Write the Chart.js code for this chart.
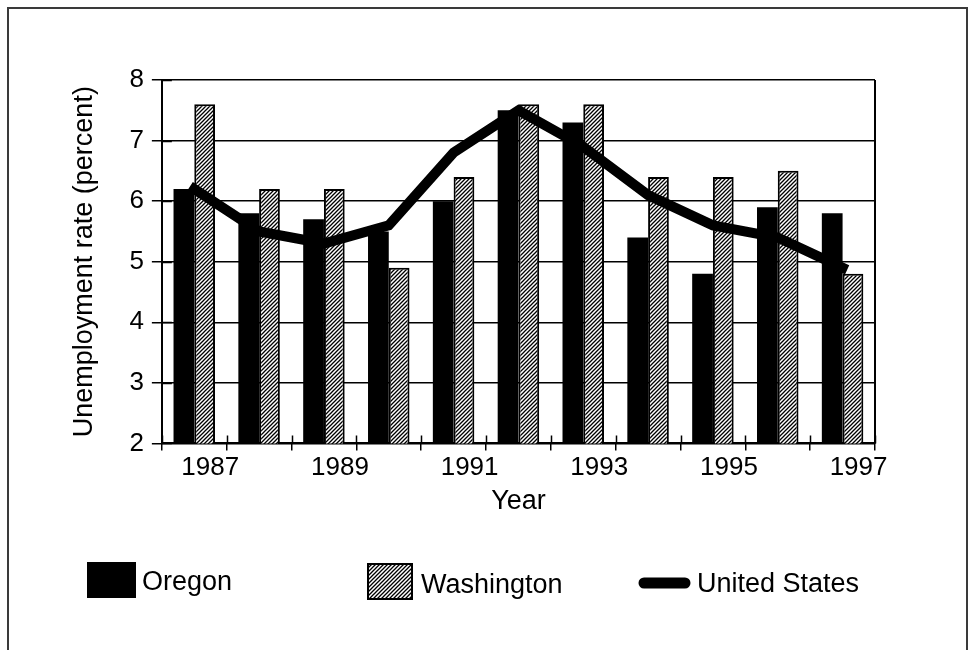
<!DOCTYPE html>
<html><head><meta charset="utf-8">
<script src="https://cdn.jsdelivr.net/npm/chart.js@4/dist/chart.umd.min.js"></script>
<style>
html,body{margin:0;padding:0;background:#fff;}
#wrap{position:relative;width:970px;height:650px;overflow:hidden;}
#frame{position:absolute;left:7px;top:7px;width:961px;height:700px;border:2px solid #3a3a3a;border-bottom:none;box-sizing:border-box;}
canvas{position:absolute;left:0;top:0;}
</style></head><body>
<div id="wrap"><div id="frame"></div><canvas id="c" width="970" height="650"></canvas></div>
<script>
// ---- data ----
const years = ['1987','1988','1989','1990','1991','1992','1993','1994','1995','1996','1997'];
const oregon = [6.2, 5.8, 5.7, 5.5, 6.0, 7.5, 7.3, 5.4, 4.8, 5.9, 5.8];
const washington = [7.6, 6.2, 6.2, 4.9, 6.4, 7.6, 7.6, 6.4, 6.4, 6.5, 4.8];
const unitedStates = [6.2, 5.5, 5.3, 5.6, 6.8, 7.5, 6.9, 6.1, 5.6, 5.4, 4.9];
const yTickLabels = [2, 3, 4, 5, 6, 7, 8];
const seriesNames = ['Oregon', 'Washington', 'United States'];
const xTitle = 'Year';
const yTitle = 'Unemployment rate (percent)';

const FONT = "'Liberation Sans', Arial, Helvetica, sans-serif";
Chart.defaults.font.family = FONT;
Chart.defaults.color = '#000';

const canvas = document.getElementById('c');
const ctx0 = canvas.getContext('2d');

function makeHatch() {
  const s = 4;
  const t = document.createElement('canvas');
  t.width = s; t.height = s;
  const c = t.getContext('2d');
  c.fillStyle = '#fff'; c.fillRect(0, 0, s, s);
  c.strokeStyle = '#000'; c.lineWidth = 1.3;
  c.beginPath();
  c.moveTo(-1, s + 1); c.lineTo(s + 1, -1);
  c.moveTo(-1, 1); c.lineTo(1, -1);
  c.moveTo(s - 1, s + 1); c.lineTo(s + 1, s - 1);
  c.stroke();
  return ctx0.createPattern(t, 'repeat');
}
const hatch = makeHatch();

// inner tick marks + right border
const innerTicks = {
  id: 'innerTicks',
  afterDraw(chart) {
    const {ctx, chartArea: a, scales: {x, y}} = chart;
    ctx.save();
    ctx.strokeStyle = '#000';
    ctx.lineWidth = 1.5;
    ctx.beginPath();
    const n = years.length;
    const w = x.getPixelForValue(1) - x.getPixelForValue(0);
    for (let i = 0; i <= n; i++) {
      const px = Math.round(x.getPixelForValue(0) - w / 2 + i * w) + 0.5;
      ctx.moveTo(px, a.bottom - 8); ctx.lineTo(px, a.bottom);
    }
    y.ticks.forEach(t => {
      const py = Math.round(y.getPixelForValue(t.value)) + 0.5;
      ctx.moveTo(a.left, py); ctx.lineTo(a.left + 10, py);
    });
    ctx.stroke();
    ctx.lineWidth = 2;
    ctx.beginPath();
    ctx.moveTo(a.right, a.top); ctx.lineTo(a.right, a.bottom);
    ctx.stroke();
    ctx.restore();
  }
};

// custom legend
const customLegend = {
  id: 'customLegend',
  afterDraw(chart) {
    const ctx = chart.ctx;
    ctx.save();
    ctx.font = "27px " + FONT;
    ctx.textBaseline = 'alphabetic';
    // Oregon
    ctx.fillStyle = '#000';
    ctx.fillRect(87, 562, 49, 36);
    ctx.fillText(seriesNames[0], 142, 590);
    // Washington
    ctx.fillStyle = hatch;
    ctx.fillRect(367, 563, 46, 37);
    ctx.strokeStyle = '#000'; ctx.lineWidth = 2;
    ctx.strokeRect(368, 564, 44, 35);
    ctx.fillStyle = '#000';
    ctx.fillText(seriesNames[1], 421, 593);
    // United States
    ctx.lineWidth = 11; ctx.lineCap = 'round';
    ctx.beginPath(); ctx.moveTo(644, 583); ctx.lineTo(685, 583); ctx.stroke();
    ctx.fillText(seriesNames[2], 697, 592);
    ctx.restore();
  }
};

new Chart(canvas, {
  type: 'bar',
  data: {
    labels: years,
    datasets: [
      { type: 'line', label: seriesNames[2], data: unitedStates, borderColor: '#000', backgroundColor: '#000',
        borderWidth: 10, pointRadius: 0, tension: 0, fill: false, borderCapStyle: 'square', borderJoinStyle: 'miter', order: 0 },
      { label: seriesNames[0], data: oregon, backgroundColor: '#000', borderColor: '#000', borderWidth: 0,
        categoryPercentage: 0.64, barPercentage: 1.0, order: 1 },
      { label: seriesNames[1], data: washington, backgroundColor: hatch, borderColor: '#000', borderWidth: 2,
        categoryPercentage: 0.64, barPercentage: 1.0, order: 2 }
    ]
  },
  options: {
    responsive: false,
    animation: false,
    devicePixelRatio: 1,
    layout: { padding: { left: 64, right: 95, top: 80, bottom: 128 } },
    plugins: { legend: { display: false }, tooltip: { enabled: false } },
    scales: {
      x: {
        offset: true,
        grid: { offset: true, drawOnChartArea: false, color: '#000', tickColor: '#000', tickLength: 7, tickWidth: 1.5, lineWidth: 1.5 },
        border: { color: '#000', width: 2 },
        ticks: { autoSkip: false, maxRotation: 0, minRotation: 0, labelOffset: 16, padding: 2, color: '#000',
          font: { size: 26 }, callback: (v, i) => (i % 2 === 0 ? years[i] : '') },
        title: { display: true, text: xTitle, color: '#000', font: { size: 27 }, padding: { top: 0, bottom: 4 } }
      },
      y: {
        min: 2, max: 8,
        grid: { color: c => (yTickLabels.includes(c.tick.value) ? '#000' : 'rgba(0,0,0,0)'), lineWidth: 1.5,
          tickLength: 10, tickColor: '#000', tickWidth: 1.5 },
        border: { color: '#000', width: 2 },
        ticks: { stepSize: 0.5, padding: 8, color: '#000', font: { size: 26 },
          callback: v => (yTickLabels.includes(v) ? String(v) : '') },
        title: { display: true, text: yTitle, color: '#000', font: { size: 27 }, padding: { top: 4, bottom: 21 } }
      }
    }
  },
  plugins: [innerTicks, customLegend]
});
</script>
</body></html>
